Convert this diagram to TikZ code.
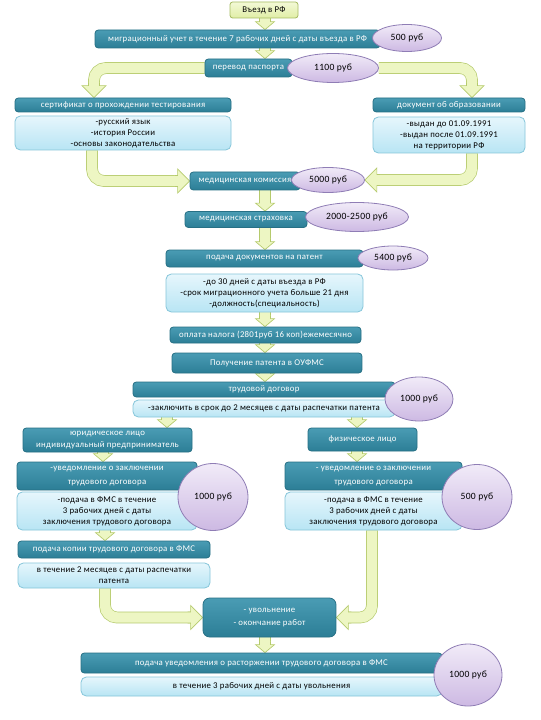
\documentclass[tikz,border=0pt]{standalone}
\usepackage{fontspec}
\setmainfont{Carlito}[LetterSpace=3]
\usetikzlibrary{shapes.geometric,calc}
\pgfdeclarelayer{bg}
\pgfsetlayers{bg,main}
\newdimen\px \px=0.75pt
\definecolor{hdrA}{HTML}{4A9CB4}
\definecolor{hdrB}{HTML}{2C7E96}
\definecolor{hdrline}{HTML}{277085}
\definecolor{bodyA}{HTML}{E6F6FC}
\definecolor{bodyB}{HTML}{B8E5F4}
\definecolor{bodyline}{HTML}{86C6DA}
\definecolor{ellA}{HTML}{F1EBF8}
\definecolor{ellB}{HTML}{CDB9E3}
\definecolor{ellline}{HTML}{8F7DB5}
\definecolor{arrfill}{HTML}{EDF6C3}
\definecolor{arrline}{HTML}{B5CA6C}
\definecolor{entA}{HTML}{F3F9D6}
\definecolor{entB}{HTML}{E0EEA6}
\definecolor{entline}{HTML}{A6BB62}
\tikzset{
 sz/.style n args={2}{minimum width=#1\px, minimum height=#2\px},
 hdr/.style={rectangle, rounded corners=2.5pt, draw=hdrline, line width=0.6pt,
   top color=hdrA, bottom color=hdrB, text=white,
   font=\fontsize{6.6}{8.2}\selectfont, align=center, inner sep=0pt},
 hdrtall/.style={hdr, font=\fontsize{6.6}{10}\selectfont},
 body/.style={rectangle, rounded corners=4pt, draw=bodyline, line width=0.6pt,
   top color=bodyA, bottom color=bodyB, text=black,
   font=\fontsize{6.6}{8.2}\selectfont, align=center, inner sep=0pt},
 price/.style={ellipse, draw=ellline, line width=0.6pt, top color=ellA,
   bottom color=ellB, text=black, font=\fontsize{7.2}{9}\selectfont, inner sep=0pt},
 entrybox/.style={rectangle, rounded corners=2pt, draw=entline, line width=0.6pt,
   top color=entA, bottom color=entB, text=black,
   font=\fontsize{6.6}{8.2}\selectfont, inner sep=0pt},
 shaft/.style={draw=arrline, line width=0.5pt, double=arrfill,
   double distance=7.8pt, rounded corners=9pt},
}
% arrow head: #1 tip, #2 angle (0 = down, 90 = right, -90 = left), #3 half width, #4 length
\newcommand{\ahead}[4]{%
  \begin{scope}[shift={#1}, rotate=#2]
    \fill[arrfill] (0,0) -- (-#3,-#4) -- (-5.5,-#4) -- ++(0,-3) -- (5.5,-#4-3) -- (5.5,-#4) -- (#3,-#4) -- cycle;
    \draw[arrline, line width=0.5pt] (-5.5,-#4-3) -- (-5.5,-#4) -- (-#3,-#4) -- (0,0) -- (#3,-#4) -- (5.5,-#4) -- (5.5,-#4-3);
  \end{scope}}
\newcommand{\sarr}[2]{%
  \draw[shaft, shorten >=5\px] #1 -- #2;
  \ahead{#2}{0}{9.5}{8}}
\newcommand{\carr}[4]{% start, path op, tip, angle
  \draw[shaft, shorten >=8\px] #1 #2 #3;
  \ahead{#3}{#4}{12}{12}}
\begin{document}
\begin{tikzpicture}[x=\px,y=-\px]
\useasboundingbox (0,0) rectangle (540,720);
% columns for connectors
\coordinate (ax) at (265,0);
\coordinate (cA) at (94,0);
\coordinate (cB) at (472,0);
\coordinate (cC) at (92,0);
\coordinate (cD) at (167,0);
\coordinate (cE) at (357,0);
\coordinate (cF) at (103,0);
\coordinate (cG) at (105,0);
\coordinate (cH) at (372,0);
% nodes
\node[entrybox, sz={68}{16}] (entry) at (264,10) {Въезд в РФ};
\node[hdr, sz={285}{18}] (mig) at (237.5,39) {миграционный учет в течение 7 рабочих дней с даты въезда в РФ};
\node[price, sz={69}{27}] (p500) at (407,38) {500 руб};
\node[hdr, sz={87}{18}] (pasp) at (248.5,68) {перевод паспорта};
\node[price, sz={91}{29}] (p1100) at (333,68) {1100 руб};
\node[hdr, sz={216}{14}] (cert) at (123,105) {сертификат о прохождении тестирования};
\node[body, sz={216}{34}] (certb) at (123,133) {-русский язык\\-история России\\-основы законодательства};
\node[hdr, sz={152}{14}] (doc) at (449,105) {документ об образовании};
\node[body, sz={152}{36}] (docb) at (449,135) {-выдан до 01.09.1991\\-выдан после 01.09.1991\\на территории РФ};
\node[hdr, sz={110}{18}] (med) at (245,181) {медицинская комиссия};
\node[price, sz={73}{25}] (p5000) at (328,180) {5000 руб};
\node[hdr, sz={122}{16}] (ins) at (246,219.5) {медицинская страховка};
\node[price, sz={103}{29}] (p2000) at (357,217) {2000-2500 руб};
\node[hdr, sz={197}{17}] (pat) at (264.5,258.5) {подача документов на патент};
\node[price, sz={70}{24}] (p5400) at (393,258) {5400 руб};
\node[body, sz={197}{38}] (patb) at (264.5,293) {-до 30 дней с даты въезда в РФ\\-срок миграционного учета больше 21 дня\\-должность(специальность)};
\node[hdr, sz={191}{16}] (tax) at (265.5,335) {оплата налога (2801руб 16 коп)ежемесячно};
\node[hdr, sz={190}{20}] (get) at (267,363) {Получение патента в ОУФМС};
\node[hdr, sz={262}{15}] (td) at (264,389.5) {трудовой договор};
\node[body, sz={262}{17}] (tdb) at (264,408.5) {-заключить в срок до 2 месяцев с даты распечатки патента};
\node[price, sz={68}{44}] (p1000a) at (419,399) {1000 руб};
\node[hdr, font=\fontsize{6.6}{9}\selectfont, sz={169}{24}] (legal) at (107.5,440) {юридическое лицо\\индивидуальный предприниматель};
\node[hdr, sz={109}{23}] (phys) at (362.5,439.5) {физическое лицо};
\node[hdrtall, sz={180}{28}] (lnot) at (107,476) {-уведомление о заключении\\трудового договора};
\node[body, sz={180}{38}] (lnotb) at (107,511) {-подача в ФМС в течение\\3 рабочих дней с даты\\заключения трудового договора};
\node[price, sz={70}{67}] (p1000b) at (213,497) {1000 руб};
\node[hdrtall, sz={177}{28}] (rnot) at (373.5,476) {- уведомление о заключении\\трудового договора};
\node[body, sz={177}{38}] (rnotb) at (373.5,511) {-подача в ФМС в течение\\3 рабочих дней с даты\\заключения трудового договора};
\node[price, sz={70}{65}] (p500b) at (477,497) {500 руб};
\node[hdr, sz={192}{17}] (copy) at (114,549.5) {подача копии трудового договора в ФМС};
\node[body, sz={192}{25}] (copyb) at (114,575.5) {в течение 2 месяцев с даты распечатки\\патента};
\node[hdrtall, rounded corners=5pt, sz={133}{39}] (dis) at (269.5,617.5) {- увольнение\\- окончание работ};
\node[hdr, sz={361}{20}] (fin) at (261.5,663) {подача уведомления о расторжении трудового договора в ФМС};
\node[body, sz={361}{19}] (finb) at (261.5,686.5) {в течение 3 рабочих дней с даты увольнения};
\node[price, sz={68}{62}] (p1000c) at (468,675) {1000 руб};
% connectors
\begin{pgfonlayer}{bg}
\fill[white] (0,0) rectangle (540,720);
\sarr{(entry.south -| ax)}{(mig.north -| ax)}
\sarr{(mig.south -| ax)}{(pasp.north -| ax)}
\sarr{(med.south -| ax)}{(ins.north -| ax)}
\sarr{(ins.south -| ax)}{(pat.north -| ax)}
\sarr{(patb.south -| ax)}{(tax.north -| ax)}
\sarr{(tax.south -| ax)}{(get.north -| ax)}
\sarr{(get.south -| ax)}{(td.north -| ax)}
\sarr{(tdb.south -| cD)}{(legal.north -| cD)}
\sarr{(tdb.south -| cE)}{(phys.north -| cE)}
\sarr{(legal.south -| cF)}{(lnot.north -| cF)}
\sarr{(phys.south -| cE)}{(rnot.north -| cE)}
\sarr{(lnotb.south -| cG)}{(copy.north -| cG)}
\sarr{(dis.south -| ax)}{(fin.north -| ax)}
\carr{(pasp.west)}{-|}{(cert.north -| cA)}{0}
\carr{(p1100.east)}{-|}{(doc.north -| cB)}{0}
\carr{(certb.south -| cC)}{|-}{(med.west)}{90}
\carr{(docb.south -| cB)}{|-}{(p5000.east)}{-90}
\carr{(copyb.south -| cG)}{|-}{(dis.west)}{90}
\carr{(rnotb.south -| cH)}{|-}{(dis.east)}{-90}
\end{pgfonlayer}
\end{tikzpicture}
\end{document}
